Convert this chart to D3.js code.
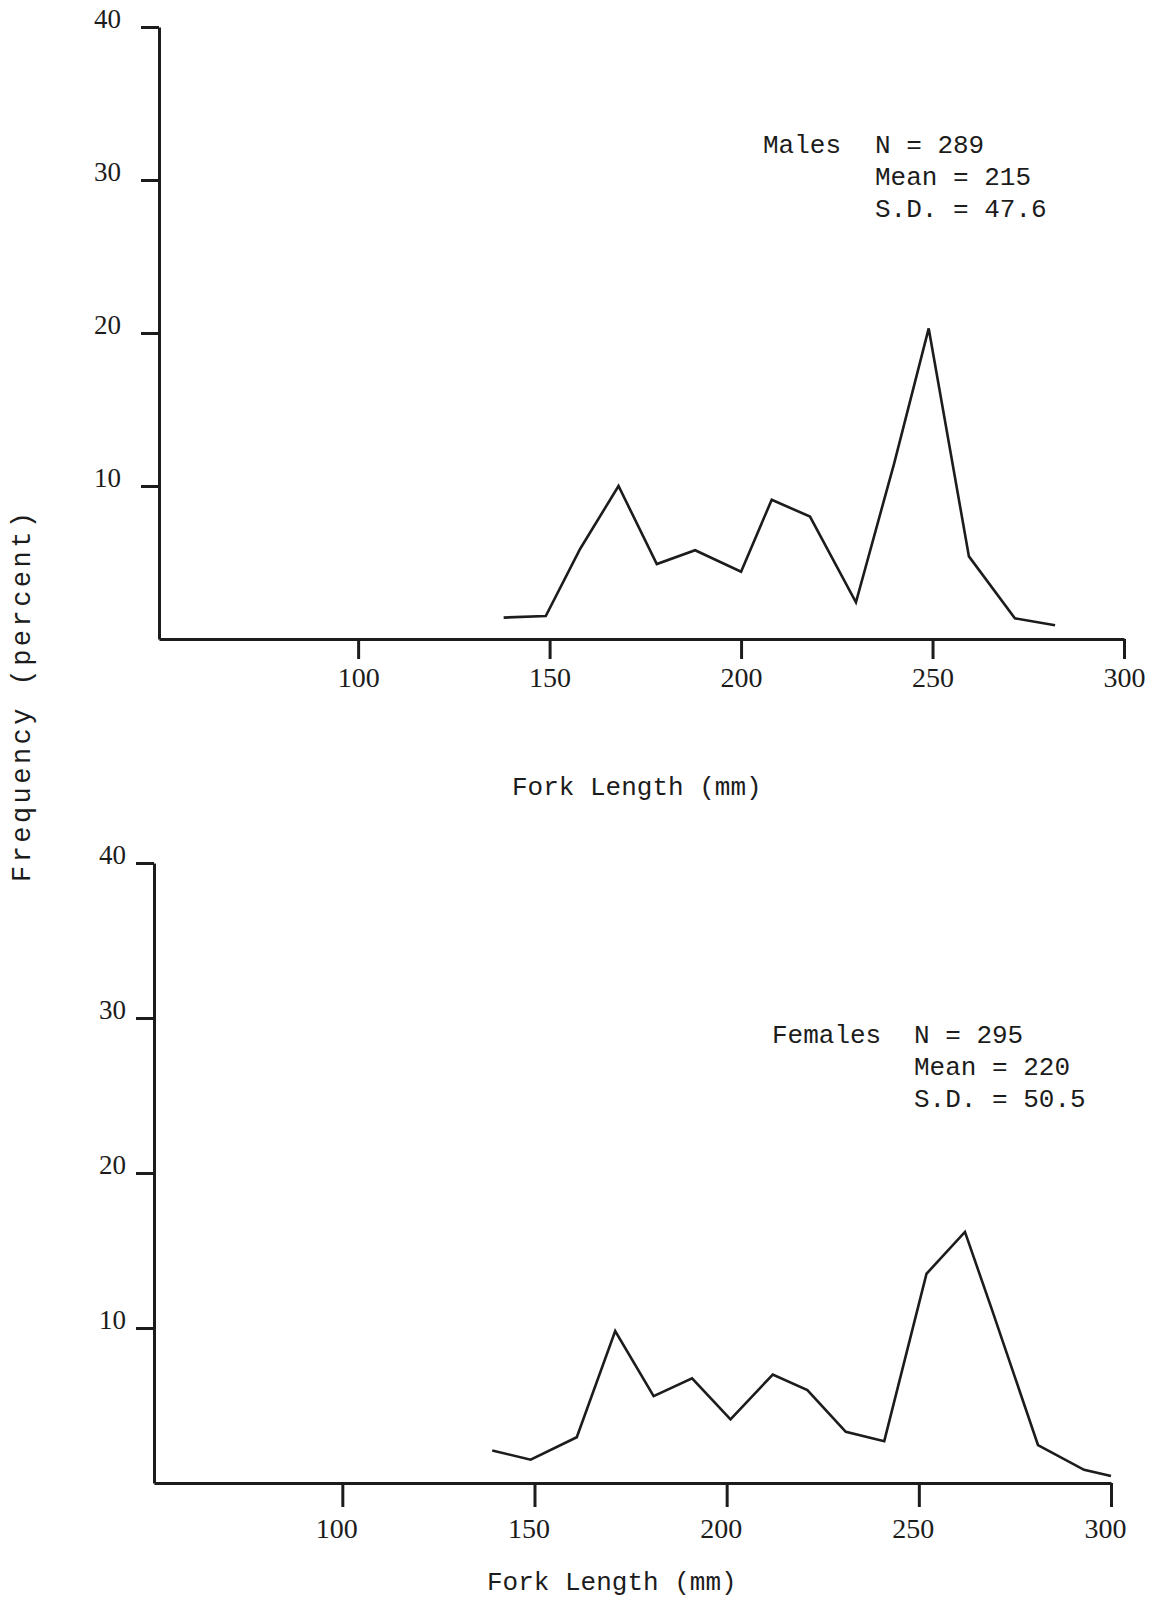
<!DOCTYPE html>
<html>
<head>
<meta charset="utf-8">
<script src="https://cdn.jsdelivr.net/npm/d3@7"></script>
<style>
  body { margin: 0; background: #fff; }
  svg { display: block; }
</style>
</head>
<body>
<script>
'use strict';

(function() {
    // values (fork length in mm, frequency in percent)
    const maleLength = [138, 149, 158, 168, 178, 188, 200, 208, 218, 230, 240, 249, 259.5, 271.5, 282];
    const maleFreq   = [1.4, 1.5, 5.9, 10.0, 4.9, 5.8, 4.4, 9.1, 8.0, 2.4, 11.5, 20.3, 5.4, 1.35, 0.9];
    const femaleLength = [139, 149, 161, 171, 181, 191, 201, 212, 221, 231, 241, 252, 262, 269, 281, 293, 300];
    const femaleFreq   = [2.1, 1.5, 2.95, 9.8, 5.6, 6.75, 4.1, 7.0, 6.0, 3.3, 2.7, 13.5, 16.2, 11.2, 2.45, 0.85, 0.45];
    const yTicks = [10, 20, 30, 40];
    const xTicks = [100, 150, 200, 250, 300];
    const maleStats = ["N = 289", "Mean = 215", "S.D. = 47.6"];
    const femaleStats = ["N = 295", "Mean = 220", "S.D. = 50.5"];

    const ink = "#1c1c1c";
    const mono = "'Liberation Mono', 'Courier New', monospace";
    const serif = "'Liberation Serif', 'Times New Roman', serif";

    let svgContainer = d3.select('body')
        .append('svg')
        .attr('width', 1157)
        .attr('height', 1598);

    svgContainer.append("rect")
        .attr("width", 1157)
        .attr("height", 1598)
        .attr("fill", "#fff");

    // panel layouts: axis corner, top of y axis, end of x axis
    let top = {
        left: 159, right: 1124, x0: 48, yTop: 27, yBottom: 639,
        xTickLen: 20, xLabelY: 48, xLabelShift: 0, yLabelX: -38,
        name: "Males", nameX: 763, statX: 875, statY: 153, lineGap: 32,
        axisTitleX: 512, axisTitleY: 795
    };
    let bottom = {
        left: 154, right: 1111, x0: 51, yTop: 863, yBottom: 1483,
        xTickLen: 24, xLabelY: 55, xLabelShift: -6, yLabelX: -28,
        name: "Females", nameX: 772, statX: 914, statY: 1043, lineGap: 32,
        axisTitleX: 487, axisTitleY: 1590
    };

    drawPanel(top, maleLength, maleFreq, maleStats);
    drawPanel(bottom, femaleLength, femaleFreq, femaleStats);

    // shared y axis title
    svgContainer.append("text")
        .attr("transform", "translate(30, 697) rotate(-90)")
        .attr("text-anchor", "middle")
        .attr("font-family", mono)
        .attr("font-size", "27px")
        .attr("fill", ink)
        .attr("textLength", 370)
        .attr("lengthAdjust", "spacing")
        .text("Frequency (percent)");

    function drawPanel(p, lengths, freqs, stats) {
        let xScale = d3.scaleLinear()
            .domain([p.x0, 300])
            .range([p.left, p.right]);
        let yScale = d3.scaleLinear()
            .domain([0, 40])
            .range([p.yBottom, p.yTop]);

        // y axis, ticks pointing out to the left
        let yAxis = d3.axisLeft(yScale)
            .tickValues(yTicks)
            .tickSize(18)
            .tickSizeOuter(0);
        let gy = svgContainer.append("g")
            .attr("transform", "translate(" + p.left + ",0)")
            .call(yAxis);
        gy.selectAll("text")
            .attr("x", p.yLabelX)
            .attr("dy", "0")
            .attr("font-family", serif)
            .attr("font-size", "27px")
            .attr("fill", ink);

        // x axis, ticks pointing down
        let xAxis = d3.axisBottom(xScale)
            .tickValues(xTicks)
            .tickSize(p.xTickLen)
            .tickSizeOuter(0);
        let gx = svgContainer.append("g")
            .attr("transform", "translate(0," + p.yBottom + ")")
            .call(xAxis);
        gx.selectAll("text")
            .attr("y", p.xLabelY)
            .attr("x", p.xLabelShift)
            .attr("dy", "0")
            .attr("font-family", serif)
            .attr("font-size", "28px")
            .attr("fill", ink);

        svgContainer.selectAll(".domain, .tick line")
            .attr("stroke", ink)
            .attr("stroke-width", 3);

        // frequency polygon
        let points = lengths.map((d, i) => [d, freqs[i]]);
        let line = d3.line()
            .x(d => xScale(d[0]))
            .y(d => yScale(d[1]));
        svgContainer.append("path")
            .datum(points)
            .attr("d", line)
            .attr("fill", "none")
            .attr("stroke", ink)
            .attr("stroke-width", 2.6)
            .attr("stroke-linejoin", "miter");

        // sample statistics
        svgContainer.append("text")
            .attr("x", p.nameX)
            .attr("y", p.statY)
            .attr("font-family", mono)
            .attr("font-size", "26px")
            .attr("fill", ink)
            .text(p.name);
        svgContainer.selectAll("stat" + p.name)
            .data(stats)
            .enter()
            .append("text")
                .attr("x", p.statX)
                .attr("y", (d, i) => p.statY + i * p.lineGap)
                .attr("font-family", mono)
                .attr("font-size", "26px")
                .attr("fill", ink)
                .attr("xml:space", "preserve")
                .text(d => d);

        // x axis title
        svgContainer.append("text")
            .attr("x", p.axisTitleX)
            .attr("y", p.axisTitleY)
            .attr("font-family", mono)
            .attr("font-size", "26px")
            .attr("fill", ink)
            .text("Fork Length (mm)");
    }
})();
</script>
</body>
</html>
